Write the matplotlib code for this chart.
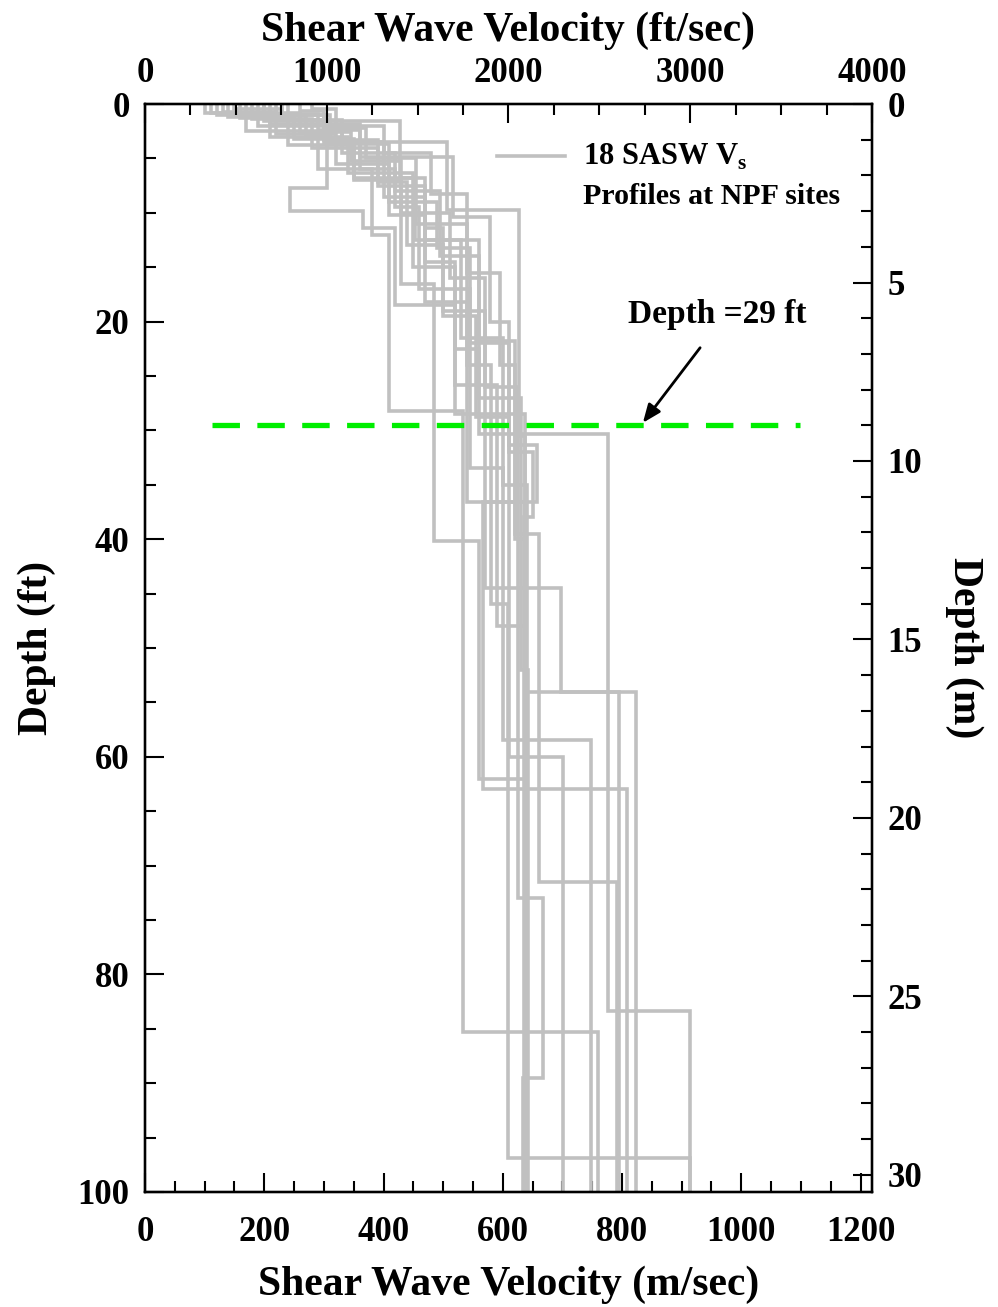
import matplotlib
matplotlib.use("Agg")
import matplotlib.pyplot as plt
from matplotlib.ticker import MultipleLocator
import numpy as np

plt.rcParams['font.family'] = ['Liberation Serif', 'DejaVu Serif']
plt.rcParams['font.weight'] = 'bold'
plt.rcParams['mathtext.fontset'] = 'custom'
plt.rcParams['mathtext.rm'] = 'Liberation Serif:bold'

FT = 0.3048

# 18 SASW profiles: layer tops (ft) and layer velocities (m/s), half-space to 100 ft
tops = [
    [0, 0.5, 1.5, 3.5, 9.7, 30.5],
    [0, 1.6, 6.8, 12.5, 21.5, 35, 54],
    [0, 1.0, 3.0, 7.7, 9.8, 11.4, 18.5, 28.5],
    [0, 0.8, 2.5, 6.0, 12.0, 28.2, 85.3],
    [0, 1.2, 3.2, 7.0, 16.5, 40.2, 62],
    [0, 0.6, 2.2, 5.0, 11.0, 24.0, 46, 96.9],
    [0, 1.0, 3.5, 8.5, 14.5, 22.5, 30.3, 83.4],
    [0, 1.4, 4.0, 7.2, 13, 19, 44.5, 54],
    [0, 0.7, 2.8, 5.5, 10.2, 18.2, 36.6],
    [0, 1.8, 4.9, 10.4, 20, 31.3, 36.6, 63],
    [0, 1.1, 3.0, 6.3, 15, 25.8, 48],
    [0, 0.9, 2.4, 6.0, 9.5, 17.0, 33.5, 58.5],
    [0, 2.0, 4.5, 8.0, 14, 21.8, 39.5, 71.5],
    [0, 1.3, 3.8, 6.8, 11.4, 19.5, 28.8, 60],
    [0, 0.5, 2.0, 4.5, 8.3, 15.5, 24, 40],
    [0, 1.5, 3.3, 7.5, 12.5, 27, 52],
    [0, 0.8, 2.6, 5.2, 10, 16, 26, 73, 89.5],
    [0, 1.0, 3.7, 9.0, 13.2, 22, 32, 38],
]
vels = [
    [150, 230, 330, 506, 628, 637],
    [200, 428, 452, 530, 600, 640, 795],
    [120, 210, 305, 243, 365, 420, 520, 637],
    [100, 170, 290, 380, 410, 533, 760],
    [140, 250, 350, 430, 485, 560, 637],
    [260, 300, 370, 455, 540, 580, 609, 914],
    [230, 310, 400, 470, 520, 560, 776, 914],
    [180, 280, 390, 440, 500, 570, 697, 823],
    [130, 220, 320, 410, 470, 540, 637],
    [210, 360, 516, 578, 610, 657, 567, 808],
    [170, 270, 340, 450, 520, 590, 637],
    [240, 290, 360, 420, 460, 545, 600, 748],
    [190, 330, 420, 495, 560, 620, 660, 792],
    [160, 240, 350, 470, 500, 555, 610, 701],
    [280, 320, 400, 480, 540, 595, 620, 637],
    [220, 300, 390, 470, 560, 630, 642],
    [110, 260, 345, 430, 512, 570, 625, 668, 634],
    [200, 300, 410, 490, 545, 610, 650, 635],
]
max_depth = 100
ref_depth = 29.5

fig = plt.figure(figsize=(9.98, 13.07), dpi=100)
ax = fig.add_axes([0.1453, 0.0880, 0.7284, 0.8324])

for t, v in zip(tops, vels):
    bounds = list(t) + [max_depth]
    y = np.repeat(bounds, 2)[1:-1]
    x = np.repeat(v, 2)
    ax.plot(x, y, color='#c0c0c0', lw=2.6, solid_joinstyle='miter')

ax.plot([112, 1098], [ref_depth, ref_depth], color='#00ee00', lw=3.8,
        dashes=(5.2, 3.3), zorder=5)

ax.annotate('', xy=(835, 29.3), xytext=(931, 22.4),
            arrowprops=dict(arrowstyle='-|>,head_length=1.1,head_width=0.45',
                            color='black', lw=2.0, shrinkA=0, shrinkB=0))
ax.text(960, 19.3, 'Depth =29 ft', fontsize=24, fontweight='bold',
        ha='center', va='center')

# legend
ax.plot([590, 704], [4.8, 4.8], color='#c0c0c0', lw=2.6)
ax.text(735, 4.9, '18 SASW V$_\\mathregular{s}$', fontsize=22, fontweight='bold',
        ha='left', va='center')
ax.text(735, 8.5, 'Profiles at NPF sites', fontsize=21.5, fontweight='bold',
        ha='left', va='center')

ax.set_xlim(0, 4000 * FT)
ax.set_ylim(max_depth, 0)
ax.xaxis.set_major_locator(MultipleLocator(200))
ax.xaxis.set_minor_locator(MultipleLocator(50))
ax.yaxis.set_major_locator(MultipleLocator(20))
ax.yaxis.set_minor_locator(MultipleLocator(5))
ax.set_xlabel('Shear Wave Velocity (m/sec)', fontsize=30, fontweight='bold', labelpad=12)
ax.set_ylabel('Depth (ft)', fontsize=30, fontweight='bold', labelpad=16)

ax_top = ax.twiny()
ax_top.set_xlim(0, 4000)
ax_top.xaxis.set_major_locator(MultipleLocator(1000))
ax_top.xaxis.set_minor_locator(MultipleLocator(250))
ax_top.set_xlabel('Shear Wave Velocity (ft/sec)', fontsize=30, fontweight='bold', labelpad=12)

ax_r = ax.twinx()
ax_r.set_ylim(max_depth * FT, 0)
ax_r.yaxis.set_major_locator(MultipleLocator(5))
ax_r.yaxis.set_minor_locator(MultipleLocator(1))
ax_r.set_ylabel('Depth (m)', fontsize=30, fontweight='bold', rotation=-90, labelpad=44)

for a in (ax, ax_top, ax_r):
    for s in a.spines.values():
        s.set_linewidth(1.6)
    a.tick_params(which='both', direction='in', width=1.5, labelsize=25)
    a.tick_params(which='major', length=14)
    a.tick_params(which='minor', length=8)
ax.tick_params(axis='x', pad=17, top=False)
ax.tick_params(axis='y', pad=11, right=False)
ax_top.tick_params(axis='x', pad=10)
ax_r.tick_params(axis='y', pad=11)

fig.savefig('out.png', dpi=100)
